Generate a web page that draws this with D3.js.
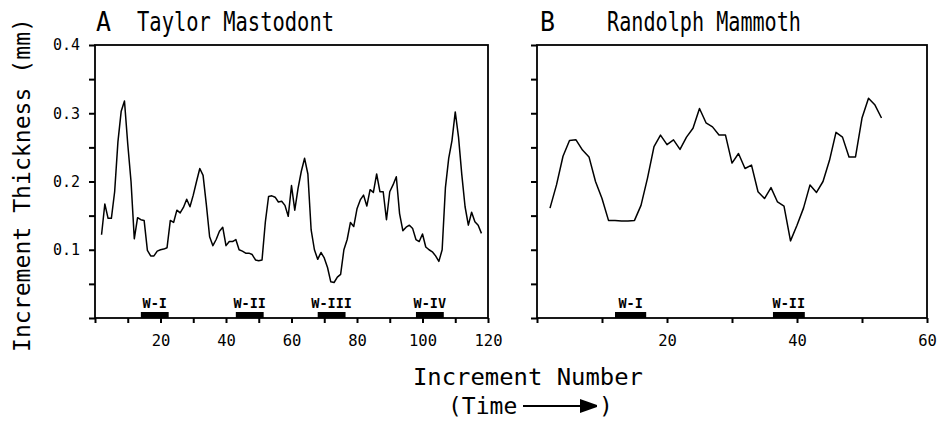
<!DOCTYPE html>
<html><head><meta charset="utf-8">
<script src="https://cdn.jsdelivr.net/npm/d3@7"></script>
<style>
body{margin:0;background:#fff}
svg{display:block}
text{font-family:"DejaVu Sans Mono",monospace;fill:#000}
</style>
</head><body>
<svg id="chart" width="941" height="422"></svg>
<script>
// ---------- data ----------
const taylorStart = 2;
const taylorThickness = [
 0.122,0.167,0.146,0.146,0.185,0.258,0.303,0.318,0.255,0.200,
 0.116,0.147,0.144,0.143,0.099,0.091,0.091,0.098,0.100,0.101,
 0.103,0.143,0.140,0.158,0.154,0.162,0.174,0.163,0.180,0.200,
 0.219,0.209,0.166,0.119,0.106,0.115,0.127,0.133,0.106,0.112,
 0.112,0.115,0.100,0.098,0.095,0.095,0.093,0.085,0.084,0.085,
 0.140,0.178,0.179,0.177,0.170,0.171,0.165,0.149,0.194,0.158,
 0.190,0.215,0.234,0.211,0.129,0.100,0.086,0.096,0.088,0.074,
 0.053,0.052,0.060,0.064,0.100,0.115,0.140,0.134,0.160,0.173,
 0.180,0.164,0.188,0.184,0.211,0.185,0.185,0.144,0.185,0.195,
 0.207,0.153,0.128,0.133,0.136,0.131,0.115,0.112,0.123,0.104,
 0.100,0.097,0.091,0.083,0.100,0.191,0.234,0.260,0.302,0.265,
 0.210,0.163,0.136,0.155,0.141,0.136,0.124
];
const randolphStart = 2;
const randolphThickness = [
 0.161,0.195,0.237,0.260,0.261,0.246,0.236,0.200,0.175,0.143,
 0.143,0.142,0.142,0.143,0.165,0.205,0.251,0.268,0.254,0.261,
 0.247,0.265,0.278,0.307,0.286,0.280,0.268,0.268,0.227,0.241,
 0.219,0.224,0.185,0.175,0.191,0.170,0.164,0.113,0.136,0.161,
 0.195,0.184,0.200,0.231,0.272,0.265,0.236,0.236,0.293,0.322,
 0.312,0.293
];
const taylorWinters = ["W-I","W-II","W-III","W-IV"];
const taylorWinterStart = [14,43,68,98];
const taylorWinterEnd = [22.5,51.5,76.5,106.5];
const randolphWinters = ["W-I","W-II"];
const randolphWinterStart = [12,36.3];
const randolphWinterEnd = [16.8,41.2];

const yTickValues = [0,0.05,0.1,0.15,0.2,0.25,0.3,0.35,0.4];
const yTickLabels = [0.1,0.2,0.3,0.4];
const taylorXTicks = [0,10,20,30,40,50,60,70,80,90,100,110,120];
const taylorXLabels = [20,40,60,80,100,120];
const randolphXTicks = [0,10,20,30,40,50,60];
const randolphXLabels = [20,40,60];

const panelTitles = ["Taylor Mastodont","Randolph Mammoth"];
const panelLetters = ["A","B"];
const yTitle = "Increment Thickness (mm)";
const xTitle = "Increment Number";

// ---------- drawing ----------
const svg = d3.select("#chart");
const y = d3.scaleLinear().domain([0,0.4]).range([318,45]);

function panel(opts){
  const {x, values, start, xTicks, xLabels, yLabels, wNames, wStart, wEnd, letter, title, letterX, titleX, titleLen} = opts;
  const g = svg.append("g");
  const [x0,x1] = x.range();
  g.append("rect").attr("x",x0).attr("y",y(0.4)).attr("width",x1-x0).attr("height",y(0)-y(0.4))
    .attr("fill","none").attr("stroke","#000").attr("stroke-width",1.8);
  const xa = g.append("g").attr("transform",`translate(0,${y(0)})`)
    .call(d3.axisBottom(x).tickValues(xTicks).tickSize(5).tickPadding(12)
      .tickFormat(d => xLabels.includes(d) ? d : ""));
  xa.select(".domain").remove();
  xa.selectAll("line").attr("stroke-width",2);
  xa.selectAll("text").attr("font-size",15.5).attr("font-family","DejaVu Sans Mono");
  const ya = g.append("g").attr("transform",`translate(${x0},0)`)
    .call(d3.axisLeft(y).tickValues(yTickValues).tickSize(6).tickPadding(9)
      .tickFormat(d => yLabels.some(v => Math.abs(v-d)<1e-9) ? d3.format(".1f")(d) : ""));
  ya.select(".domain").remove();
  ya.selectAll("line").attr("stroke-width",2);
  ya.selectAll("text").attr("font-size",15).attr("font-family","DejaVu Sans Mono");
  wNames.forEach((n,i) => {
    g.append("rect").attr("x",x(wStart[i])).attr("y",y(0)-6)
      .attr("width",x(wEnd[i])-x(wStart[i])).attr("height",6).attr("fill","#000");
    g.append("text").attr("x",(x(wStart[i])+x(wEnd[i]))/2).attr("y",y(0)-10)
      .attr("text-anchor","middle").attr("font-size",13.5).attr("font-weight","bold").text(n);
  });
  const line = d3.line().x((d,i) => x(start+i)).y(d => y(d));
  g.append("path").datum(values).attr("d",line).attr("fill","none")
    .attr("stroke","#000").attr("stroke-width",1.5).attr("stroke-linejoin","round");
  g.append("text").attr("x",letterX).attr("y",31).attr("font-size",27)
    .attr("textLength",15).attr("lengthAdjust","spacingAndGlyphs").text(letter);
  g.append("text").attr("x",titleX).attr("y",31).attr("font-size",26)
    .attr("textLength",titleLen).attr("lengthAdjust","spacingAndGlyphs").text(title);
}

panel({x: d3.scaleLinear().domain([0,120]).range([95,488]), values: taylorThickness, start: taylorStart,
  xTicks: taylorXTicks, xLabels: taylorXLabels, yLabels: yTickLabels,
  wNames: taylorWinters, wStart: taylorWinterStart, wEnd: taylorWinterEnd,
  letter: panelLetters[0], title: panelTitles[0], letterX: 96, titleX: 137, titleLen: 197});
panel({x: d3.scaleLinear().domain([0,60]).range([537,927]), values: randolphThickness, start: randolphStart,
  xTicks: randolphXTicks, xLabels: randolphXLabels, yLabels: [],
  wNames: randolphWinters, wStart: randolphWinterStart, wEnd: randolphWinterEnd,
  letter: panelLetters[1], title: panelTitles[1], letterX: 540, titleX: 607, titleLen: 194});

svg.append("text").attr("transform","translate(30,185) rotate(-90)").attr("text-anchor","middle")
  .attr("font-size",23).attr("textLength",334).attr("lengthAdjust","spacingAndGlyphs").text(yTitle);
svg.append("text").attr("x",528).attr("y",385).attr("text-anchor","middle").attr("font-size",23)
  .attr("textLength",230).attr("lengthAdjust","spacingAndGlyphs").text(xTitle);
svg.append("text").attr("x",448).attr("y",414).attr("font-size",23).text("(Time");
svg.append("line").attr("x1",523).attr("x2",582).attr("y1",406).attr("y2",406).attr("stroke","#000").attr("stroke-width",2);
svg.append("path").attr("d","M580,399 L597,405 L597,407 L580,413 Z").attr("fill","#000");
svg.append("text").attr("x",599).attr("y",414).attr("font-size",23).text(")");
</script>
</body></html>
